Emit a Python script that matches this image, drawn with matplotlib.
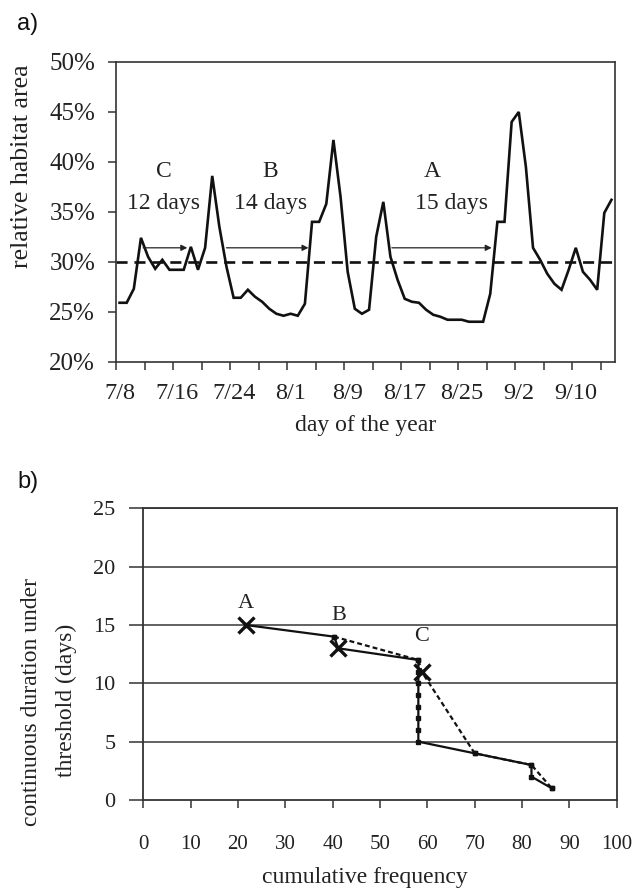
import matplotlib
matplotlib.use('Agg')
import matplotlib.pyplot as plt
from matplotlib.ticker import FuncFormatter

# ---------------- data: panel a ----------------
habitat_pct = [25.9, 25.9, 27.3, 32.4, 30.5, 29.3, 30.2, 29.2, 29.2, 29.2,
               31.5, 29.2, 31.4, 38.6, 33.5, 29.5, 26.4, 26.4, 27.2, 26.5,
               26.0, 25.3, 24.8, 24.6, 24.8, 24.6, 25.8, 34.0, 34.0, 35.8,
               42.2, 36.5, 29.0, 25.3, 24.8, 25.2, 32.5, 36.0, 30.5, 28.2,
               26.3, 26.0, 25.9, 25.2, 24.7, 24.5, 24.2, 24.2, 24.2, 24.0,
               24.0, 24.0, 26.8, 34.0, 34.0, 44.0, 45.0, 39.5, 31.4, 30.2,
               28.8, 27.8, 27.2, 29.2, 31.4, 29.0, 28.2, 27.2, 34.9, 36.2]
date_labels = ['7/8', '7/16', '7/24', '8/1', '8/9', '8/17', '8/25', '9/2', '9/10']
date_label_idx = [0, 8, 16, 24, 32, 40, 48, 56, 64]
threshold_pct = 30
y_ticks_a = [20, 25, 30, 35, 40, 45, 50]

period_names = ['C', 'B', 'A']
period_lengths = ['12 days', '14 days', '15 days']
period_start = [3.3, 15.0, 38.2]
period_end = [9.5, 26.5, 52.2]
period_arrow_level = 31.4
period_name_x = [6.2, 21.1, 43.8]
period_len_x = [6.1, 21.2, 46.6]

# ---------------- data: panel b ----------------
solid_freq = [21.6, 40.3, 41.2, 58.1, 58.1, 58.1, 58.1, 58.1, 58.1, 58.1, 58.1, 70.0, 82.0, 82.0, 86.3]
solid_days = [15, 14, 13, 12, 11, 10, 9, 8, 7, 6, 5, 4, 3, 2, 1]
dashed_freq = [40.3, 58.1, 58.8, 70.0, 82.0, 86.3]
dashed_days = [14, 12, 11, 4, 3, 1]
event_names = ['A', 'B', 'C']
event_freq = [21.6, 41.2, 58.8]
event_days = [15, 13, 11]
event_label_days = [16.85, 15.85, 14.0]
x_ticks_b = [0, 10, 20, 30, 40, 50, 60, 70, 80, 90, 100]
y_ticks_b = [0, 5, 10, 15, 20, 25]

SERIF = ['Liberation Serif', 'DejaVu Serif']
SANS = ['Liberation Sans', 'DejaVu Sans']
TXT = '#222222'
SP = '#333333'

plt.rcParams['font.family'] = SERIF
fig = plt.figure(figsize=(6.35, 8.9), dpi=100)

# ================= panel a =================
axa = fig.add_axes([116/635, 1-361.7/890, (615-116)/635, (361.7-62)/890])
n = len(habitat_pct)
axa.plot(range(n), habitat_pct, color='#111111', lw=1.9, solid_joinstyle='miter')
axa.axhline(threshold_pct, color='#111111', lw=1.9, dashes=(4.2, 2.6))
for s, e in zip(period_start, period_end):
    axa.annotate('', xy=(e, period_arrow_level), xytext=(s, period_arrow_level),
                 arrowprops=dict(arrowstyle='-|>', color='#222222', lw=0.9,
                                 mutation_scale=9, shrinkA=0, shrinkB=0))
for nm, lg, xn, xl in zip(period_names, period_lengths, period_name_x, period_len_x):
    axa.text(xn, 39.0, nm, ha='center', va='center', fontsize=17, color=TXT)
    axa.text(xl, 35.8, lg, ha='center', va='center', fontsize=17, color=TXT)
axa.set_xlim(-0.5, n - 0.5)
axa.set_ylim(20, 50)
axa.set_yticks(y_ticks_a)
axa.yaxis.set_major_formatter(FuncFormatter(lambda v, p: f'{v:.0f}%'))
axa.set_xticks(date_label_idx, date_labels)
axa.set_xticks([b - 0.5 for b in range(0, n + 1, 4)], minor=True)
axa.tick_params(axis='x', which='major', length=0, pad=15, labelsize=17.5, labelcolor=TXT)
axa.tick_params(axis='x', which='minor', length=6, width=1.1, color=SP, direction='out')
axa.tick_params(axis='y', length=6, width=1.1, color=SP, pad=9, labelsize=18, labelcolor=TXT)
for sp in axa.spines.values():
    sp.set_color(SP)
    sp.set_linewidth(1.2)
fig.text(0.034, 0.813, 'relative habitat area', rotation=90, ha='center', va='center',
         fontsize=18.5, color=TXT)
fig.text(0.575, 1-426/890, 'day of the year', ha='center', va='center', fontsize=17, color=TXT)
fig.text(17/635, 1-24/890, 'a)', ha='left', va='center', fontsize=17, family=SANS, color='#111111')

# ================= panel b =================
axb = fig.add_axes([143.3/635, 1-800/890, (616.7-143.3)/635, (800-508.3)/890])
for g in y_ticks_b[1:]:
    axb.axhline(g, color='#555555', lw=1.3, zorder=0)
axb.plot(solid_freq, solid_days, color='#111111', lw=1.6, marker='s', ms=2.6,
         mfc='#111111', mec='#111111')
axb.plot(dashed_freq, dashed_days, color='#111111', lw=1.6, dashes=(2.2, 1.4),
         marker='s', ms=2.6, mfc='#111111', mec='#111111')
axb.plot(event_freq, event_days, ls='none', marker='x', ms=11, mew=2.4, color='#111111')
for nm, fx, fl in zip(event_names, event_freq, event_label_days):
    axb.text(fx, fl, nm, ha='center', va='center', fontsize=16, color=TXT)
axb.set_xlim(0, 100)
axb.set_ylim(0, 25)
axb.set_xticks(x_ticks_b)
axb.set_yticks(y_ticks_b)
axb.tick_params(axis='x', length=6, width=1.1, color=SP, pad=19, labelsize=15, labelcolor=TXT)
axb.tick_params(axis='y', length=10, width=1.1, color=SP, pad=10, labelsize=16, labelcolor=TXT)
for sp in axb.spines.values():
    sp.set_color(SP)
    sp.set_linewidth(1.3)
fig.text(31.7/635, 1-701.7/890, 'continuous duration under', rotation=90, ha='center',
         va='center', fontsize=17, color=TXT)
fig.text(66.7/635, 1-700/890, 'threshold (days)', rotation=90, ha='center',
         va='center', fontsize=17, color=TXT)
fig.text(0.575, 1-878/890, 'cumulative frequency', ha='center', va='center', fontsize=17, color=TXT)
fig.text(17/635, 1-482/890, 'b)', ha='left', va='center', fontsize=17, family=SANS, color='#111111')

fig.savefig('out.png', dpi=100, facecolor='white')
